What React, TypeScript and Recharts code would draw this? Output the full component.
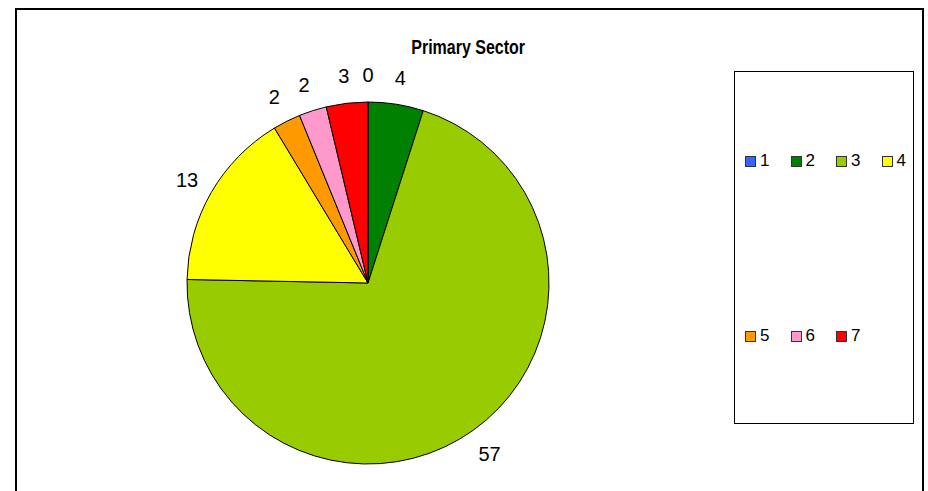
import React from "react";
import { PieChart, Pie, Cell, Legend } from "recharts";

const categories = ["1", "2", "3", "4", "5", "6", "7"];
const values = [0, 4, 57, 13, 2, 2, 3];
const colors = ["#3366FF", "#008000", "#99CC00", "#FFFF00", "#FF9900", "#FF99CC", "#FF0000"];
const title = "Primary Sector";

const data = categories.map((name, i) => ({ name, value: values[i] }));

const RAD = Math.PI / 180;
const FONT = "'Liberation Sans', Arial, sans-serif";

const renderLabel = (props: any) => {
  const { cx, cy, midAngle, outerRadius, value } = props;
  const r = outerRadius + 28;
  const x = cx + r * Math.cos(-midAngle * RAD);
  const y = cy + r * Math.sin(-midAngle * RAD) + 1;
  return (
    <text
      x={x}
      y={y}
      textAnchor="middle"
      dominantBaseline="central"
      fontFamily={FONT}
      fontSize={20}
      fill="#000"
    >
      {value}
    </text>
  );
};

const LegendContent = () => {
  const rows = [categories.slice(0, 4), categories.slice(4)];
  return (
    <div
      style={{
        width: 180,
        height: 353,
        border: "1px solid #000",
        boxSizing: "border-box",
        position: "relative",
        fontFamily: FONT,
        fontSize: 17,
        background: "#fff",
      }}
    >
      {rows.map((row, ri) => (
        <div
          key={ri}
          style={{
            position: "absolute",
            left: 10,
            top: ri === 0 ? 79 : 254,
            display: "flex",
            alignItems: "center",
          }}
        >
          {row.map((c) => {
            const idx = categories.indexOf(c);
            return (
              <div key={c} style={{ width: 45.5, display: "flex", alignItems: "center" }}>
                <span
                  style={{
                    display: "inline-block",
                    width: 9,
                    height: 9,
                    background: colors[idx],
                    border: "1px solid #333",
                    marginRight: 4,
                  }}
                />
                <span>{c}</span>
              </div>
            );
          })}
        </div>
      ))}
    </div>
  );
};

export default function App() {
  return (
    <div style={{ position: "fixed", left: 0, top: 0, width: 928, height: 491, background: "#fff", overflow: "hidden" }}>
      <div
        style={{
          position: "absolute",
          left: 15,
          top: 8,
          width: 909,
          height: 500,
          border: "2px solid #000",
          boxSizing: "border-box",
        }}
      />
      <div
        style={{
          position: "absolute",
          left: 0,
          width: 936,
          top: 36,
          textAlign: "center",
          fontFamily: FONT,
          fontWeight: "bold",
          fontSize: 20,
        }}
      >
        <span style={{ display: "inline-block", transform: "scaleX(0.8)", transformOrigin: "center" }}>{title}</span>
      </div>
      <div style={{ position: "absolute", left: 0, top: 0 }}>
        <PieChart width={928} height={491} margin={{ top: 0, right: 0, bottom: 0, left: 0 }}>
          <Pie
            data={data}
            dataKey="value"
            nameKey="name"
            cx={368}
            cy={283}
            outerRadius={181}
            startAngle={90}
            endAngle={-270}
            stroke="#000"
            strokeWidth={1}
            label={renderLabel}
            labelLine={false}
            isAnimationActive={false}
          >
            {data.map((d, i) => (
              <Cell key={d.name} fill={colors[i]} />
            ))}
          </Pie>
          <Legend
            content={<LegendContent />}
            layout="vertical"
            verticalAlign="top"
            align="right"
            wrapperStyle={{ position: "absolute", left: 734, top: 71, width: 180, height: 353 }}
          />
        </PieChart>
      </div>
    </div>
  );
}
